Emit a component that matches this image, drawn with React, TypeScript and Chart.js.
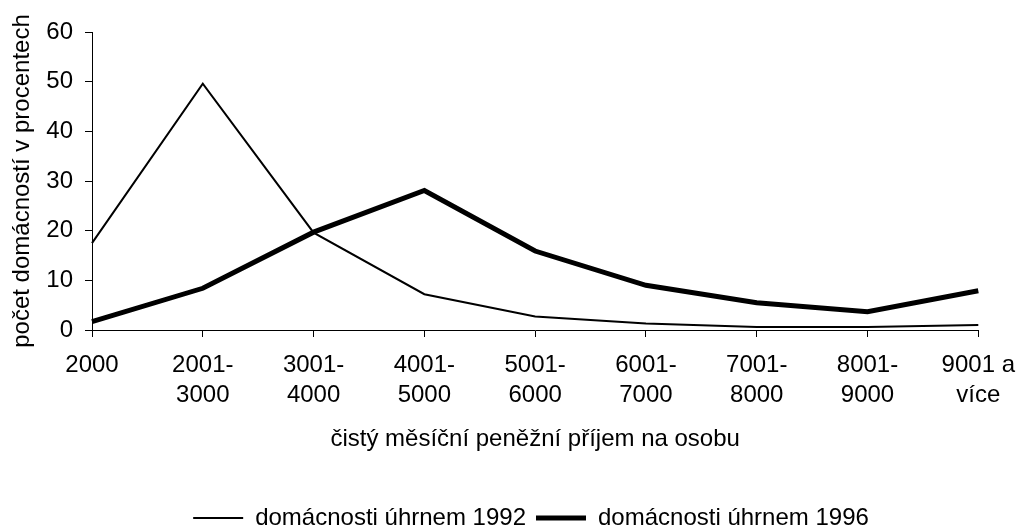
import React, { useEffect, useRef } from "react";
import { Chart, registerables } from "chart.js";

Chart.register(...registerables);

const categories: (string | string[])[] = [
  "2000",
  ["2001-", "3000"],
  ["3001-", "4000"],
  ["4001-", "5000"],
  ["5001-", "6000"],
  ["6001-", "7000"],
  ["7001-", "8000"],
  ["8001-", "9000"],
  ["9001 a", "více"],
];

const series1992 = [17.5, 49.6, 19.6, 7.2, 2.7, 1.3, 0.6, 0.6, 1.0];
const series1996 = [1.7, 8.4, 19.7, 28.1, 15.9, 9.0, 5.5, 3.7, 7.9];

const label1992 = "domácnosti úhrnem 1992";
const label1996 = "domácnosti úhrnem 1996";
const xTitle = "čistý měsíční peněžní příjem na osobu";
const yTitle = "počet domácností v procentech";

const FONT = "'Liberation Sans', Arial, sans-serif";

const legendShift = {
  id: "legendShift",
  afterLayout(chart: any) {
    const l = chart.legend;
    if (!l) return;
    l.left += 36;
    l.right += 36;
    l.top += 9;
    l.bottom += 9;
  },
};

export default function App() {
  const ref = useRef<HTMLCanvasElement | null>(null);

  useEffect(() => {
    document.body.style.margin = "0";
    document.body.style.overflow = "hidden";
    const canvas = ref.current;
    if (!canvas) return;
    const chart = new Chart(canvas, {
      type: "line",
      data: {
        labels: categories,
        datasets: [
          {
            label: label1992,
            data: series1992,
            borderColor: "#000",
            backgroundColor: "#000",
            borderWidth: 2,
            pointRadius: 0,
            pointHoverRadius: 0,
            pointBorderWidth: 2,
            pointBorderColor: "#000",
            tension: 0,
          },
          {
            label: label1996,
            data: series1996,
            borderColor: "#000",
            backgroundColor: "#000",
            borderWidth: 5,
            pointRadius: 0,
            pointHoverRadius: 0,
            pointBorderWidth: 5,
            pointBorderColor: "#000",
            tension: 0,
          },
        ],
      },
      options: {
        responsive: false,
        animation: false,
        devicePixelRatio: 1,
        layout: { padding: { left: 0, right: 38, top: 32, bottom: 0 } },
        plugins: {
          tooltip: { enabled: false },
          legend: {
            position: "bottom",
            align: "center",
            labels: {
              usePointStyle: true,
              pointStyle: "line",
              pointStyleWidth: 50,
              padding: 10,
              color: "#000",
              font: { family: FONT, size: 24 },
            },
          },
        },
        scales: {
          x: {
            type: "category",
            offset: false,
            grid: {
              display: true,
              drawOnChartArea: false,
              drawTicks: true,
              tickLength: 7,
              color: "#000",
            },
            border: { display: true, color: "#000", width: 1 },
            ticks: {
              color: "#000",
              padding: 13,
              maxRotation: 0,
              autoSkip: false,
              font: { family: FONT, size: 24, lineHeight: 1.25 },
            },
            title: {
              display: true,
              text: xTitle,
              color: "#000",
              font: { family: FONT, size: 24 },
              padding: { top: 17, bottom: 33 },
            },
            afterFit(scale: any) {
              scale.height = 157;
            },
          },
          y: {
            min: 0,
            max: 60,
            grid: {
              display: true,
              drawOnChartArea: false,
              drawTicks: true,
              tickLength: 7,
              color: "#000",
            },
            border: { display: true, color: "#000", width: 1 },
            ticks: {
              stepSize: 10,
              color: "#000",
              padding: 12,
              font: { family: FONT, size: 24 },
            },
            title: {
              display: true,
              text: yTitle,
              color: "#000",
              font: { family: FONT, size: 24 },
              padding: { top: 8, bottom: 8 },
            },
            afterFit(scale: any) {
              scale.width = 92;
            },
          },
        },
      },
      plugins: [legendShift],
    });
    return () => chart.destroy();
  }, []);

  return (
    <div style={{ width: 1028, height: 531, background: "#fff" }}>
      <canvas ref={ref} width={1028} height={531} style={{ display: "block" }} />
    </div>
  );
}
